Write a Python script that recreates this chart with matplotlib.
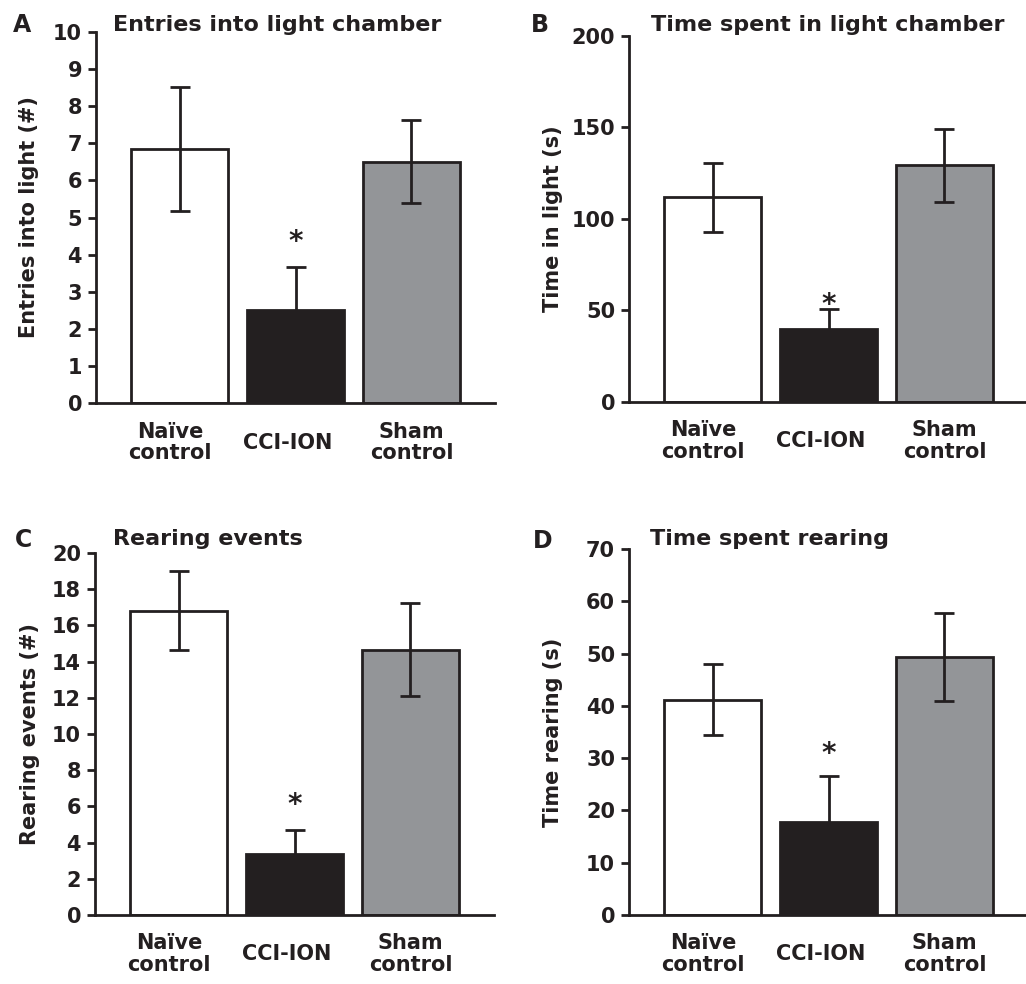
import matplotlib
matplotlib.use("Agg")
import matplotlib.pyplot as plt
import numpy as np

plt.rcParams['font.family'] = ['DejaVu Sans']
plt.rcParams['font.weight'] = 'bold'

categories = ["Naïve\ncontrol", "CCI-ION", "Sham\ncontrol"]
colors = ["#ffffff", "#231f20", "#939598"]

entries_mean = [6.84, 2.52, 6.50]
entries_err = [1.67, 1.14, 1.12]

time_light_mean = [111.8, 39.9, 129.3]
time_light_err = [19.0, 10.9, 20.0]

rearing_mean = [16.82, 3.37, 14.66]
rearing_err = [2.17, 1.33, 2.57]

time_rearing_mean = [41.2, 17.7, 49.4]
time_rearing_err = [6.8, 8.9, 8.4]

panels = [
    dict(letter="A", title="Entries into light chamber", ylabel="Entries into light (#)",
         mean=entries_mean, err=entries_err, ymax=10, step=1,
         pos=[96, 32, 399, 371], lx=-0.142, star_off=18),
    dict(letter="B", title="Time spent in light chamber", ylabel="Time in light (s)",
         mean=time_light_mean, err=time_light_err, ymax=200, step=50,
         pos=[629, 36, 399, 366], lx=-0.165, star_off=3),
    dict(letter="C", title="Rearing events", ylabel="Rearing events (#)",
         mean=rearing_mean, err=rearing_err, ymax=20, step=2,
         pos=[95, 553, 399, 362], lx=-0.138, star_off=18),
    dict(letter="D", title="Time spent rearing", ylabel="Time rearing (s)",
         mean=time_rearing_mean, err=time_rearing_err, ymax=70, step=10,
         pos=[629, 549, 399, 366], lx=-0.165, star_off=16),
]

W, H = 1026, 984
fig = plt.figure(figsize=(W / 100, H / 100), dpi=100)

edge = "#231f20"
lw = 2.0
fs = 15
label_shift = [-0.08, -0.07, 0.0]

letter_pos = {"A": (13, 32), "B": (531, 32), "C": (15, 547), "D": (533, 548)}
title_pos = {"A": (113, 31), "B": (651, 31), "C": (113, 545), "D": (650, 545)}

for p in panels:
    x0, y0, w, h = p["pos"]
    ax = fig.add_axes([x0 / W, 1 - (y0 + h) / H, w / W, h / H])
    x = np.arange(len(categories))
    ax.bar(x, p["mean"], width=0.836, color=colors, edgecolor=edge, linewidth=lw, zorder=2)
    ax.errorbar(x, p["mean"], yerr=p["err"], fmt="none", ecolor=edge, elinewidth=lw,
                capsize=7, capthick=lw, zorder=3)
    ax.set_xlim(-0.72, 2.72)
    ax.set_ylim(0, p["ymax"])
    ax.set_yticks(np.arange(0, p["ymax"] + p["step"] / 2, p["step"]))
    ax.tick_params(axis="y", direction="out", length=6, width=lw, pad=4, labelsize=fs,
                   color=edge, labelcolor=edge)
    ax.set_xticks([])
    for sp in ["top", "right"]:
        ax.spines[sp].set_visible(False)
    for sp in ["left", "bottom"]:
        ax.spines[sp].set_linewidth(lw)
        ax.spines[sp].set_color(edge)
    ax.set_ylabel(p["ylabel"], fontsize=fs, fontweight="bold", color=edge)
    ax.yaxis.set_label_coords(p["lx"], 0.5)
    for i, lab in enumerate(categories):
        ax.text(i + label_shift[i], -0.107, lab, transform=ax.get_xaxis_transform(),
                ha="center", va="center", fontsize=fs, fontweight="bold", color=edge,
                linespacing=1.1)
    # significance star above CCI-ION error bar
    top = p["mean"][1] + p["err"][1]
    ax.annotate("*", (1, top), xytext=(0, p["star_off"]), textcoords="offset points",
                ha="center", va="center", fontsize=20, fontweight="bold", color=edge)
    lxp, lyp = letter_pos[p["letter"]]
    fig.text(lxp / W, 1 - lyp / H, p["letter"], fontsize=17, fontweight="bold",
             ha="left", va="baseline", color=edge)
    txp, typ = title_pos[p["letter"]]
    fig.text(txp / W, 1 - typ / H, p["title"], fontsize=16, fontweight="bold",
             ha="left", va="baseline", color=edge)

fig.savefig("out.png", dpi=100)
